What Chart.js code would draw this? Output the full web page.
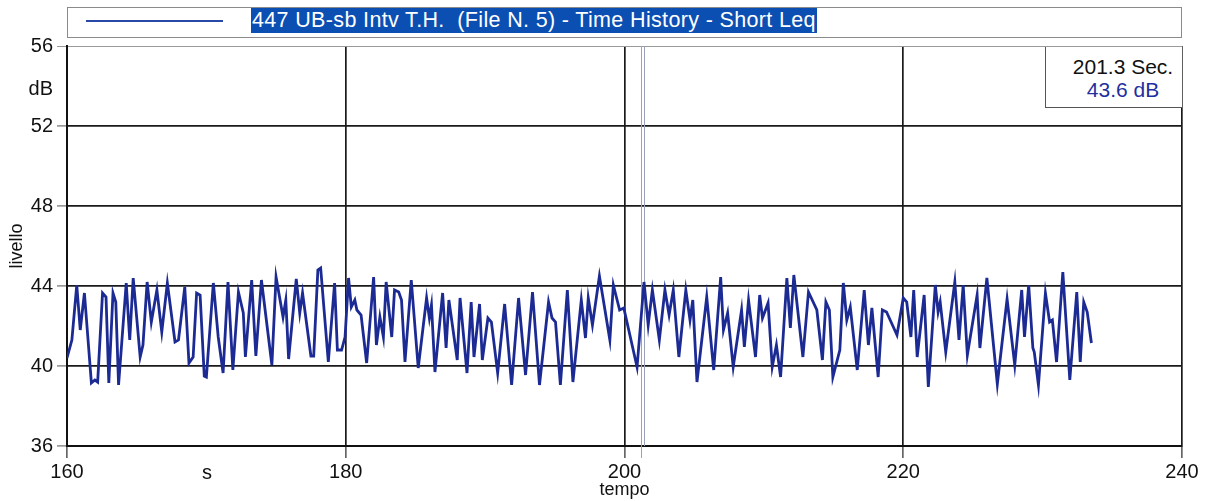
<!DOCTYPE html>
<html>
<head>
<meta charset="utf-8">
<script src="https://cdn.jsdelivr.net/npm/chart.js@4.4.0/dist/chart.umd.min.js"></script>
<style>
  html, body { margin: 0; padding: 0; background: #fff; }
  #wrap { position: relative; width: 1210px; height: 501px; font-family: 'Liberation Sans', Arial, sans-serif; color: #111; }
  #c { position: absolute; left: 0; top: 0; }
  #legend { position: absolute; left: 67px; top: 7px; width: 1115px; height: 31px; box-sizing: border-box; border: 1px solid #8a8a8a; background: #fff; }
  #legend .sample { position: absolute; left: 18px; top: 12px; width: 137px; height: 2px; background: #2a48a8; }
  #legend .txt { position: absolute; left: 183px; top: 0px; height: 25px; line-height: 25px; font-size: 21.5px; letter-spacing: 0.35px; color: #fff; background: #0b4fb3; padding: 0 1px; white-space: pre; }
  #info { position: absolute; left: 1045px; top: 47px; width: 137px; height: 61px; box-sizing: border-box; border-left: 1px solid #555; border-bottom: 1px solid #555; background: #fff; text-align: center; padding: 8px 0 0 18px; font-size: 21px; line-height: 23px; }
  #info .val { color: #1f2fa0; }
  .unit { position: absolute; font-size: 20px; line-height: 24px; }
</style>
</head>
<body>
<div id="wrap">
  <canvas id="c" width="1210" height="501"></canvas>
  <div id="legend"><div class="sample"></div><div class="txt">447 UB-sb Intv T.H.  (File N. 5) - Time History - Short Leq</div></div>
  <div id="info"><div>201.3 Sec.</div><div class="val">43.6 dB</div></div>
  <div class="unit" style="left:0; width:53px; text-align:right; top:76px;">dB</div>
  <div class="unit" style="left:192px; width:30px; text-align:center; top:460px;">s</div>
</div>
<script>
// time history (s, dB)
const times = [
  160.0, 160.35, 160.7, 160.95, 161.25, 161.75, 162.0, 162.2, 162.55, 162.8,
  163.0, 163.3, 163.5, 163.7, 164.25, 164.5, 164.75, 165.25, 165.45, 165.75,
  166.05, 166.45, 166.8, 167.2, 167.75, 168.0, 168.45, 168.75, 169.05, 169.3,
  169.55, 169.85, 170.0, 170.5, 170.85, 171.2, 171.55, 171.9, 172.3, 172.65,
  172.8, 173.25, 173.55, 173.95, 174.7, 175.0, 175.5, 175.7, 175.9, 176.45,
  176.7, 176.9, 177.5, 177.7, 178.0, 178.2, 178.75, 179.2, 179.4, 179.7,
  179.95, 180.2, 180.4, 180.65, 180.8, 181.1, 181.5, 182.0, 182.2, 182.45,
  182.7, 182.9, 183.3, 183.5, 183.8, 184.0, 184.25, 184.7, 185.2, 185.8,
  186.0, 186.15, 186.4, 186.95, 187.2, 187.4, 188.0, 188.2, 188.7, 189.0,
  189.2, 189.6, 189.8, 190.2, 190.45, 190.9, 191.4, 191.9, 192.4, 192.9,
  193.4, 193.9, 194.55, 194.8, 195.05, 195.4, 195.9, 196.3, 196.9, 197.2,
  197.4, 197.7, 198.2, 198.95, 199.2, 199.65, 199.95, 200.9, 201.4, 201.7,
  202.0, 202.5, 202.9, 203.2, 203.5, 203.9, 204.4, 204.7, 204.9, 205.2,
  205.9, 206.4, 206.9, 207.1, 207.4, 207.8, 208.4, 208.6, 208.9, 209.4,
  209.7, 209.9, 210.3, 210.6, 210.9, 211.2, 211.65, 211.9, 212.15, 212.8,
  213.2, 213.8, 214.2, 214.45, 214.7, 214.95, 215.45, 215.7, 215.95, 216.2,
  216.7, 217.2, 217.5, 217.75, 218.2, 218.5, 218.8, 219.55, 220.0, 220.25,
  220.55, 220.75, 221.0, 221.5, 221.8, 222.3, 222.5, 222.65, 223.05, 223.7,
  224.0, 224.3, 224.6, 225.3, 225.5, 226.0, 226.75, 227.45, 228.0, 228.5,
  228.7, 229.0, 229.3, 229.4, 229.7, 230.2, 230.5, 230.7, 231.0, 231.45,
  231.95, 232.45, 232.7, 232.95, 233.2, 233.5
]
const levels = [
  40.4, 41.3, 44.05, 41.8, 43.65, 39.15, 39.3, 39.2, 43.65, 43.45,
  39.15, 43.65, 43.2, 39.05, 44.15, 41.3, 44.4, 40.45, 41.05, 44.2,
  42.2, 43.8, 41.7, 44.15, 41.2, 41.3, 43.95, 40.15, 40.45, 43.65,
  43.55, 39.5, 39.45, 44.15, 41.45, 39.65, 44.2, 39.8, 43.7, 42.65,
  40.45, 44.3, 40.5, 44.3, 40.05, 44.45, 42.45, 43.3, 40.35, 44.35,
  42.65, 43.65, 40.5, 40.5, 44.8, 44.9, 40.2, 44.15, 40.8, 40.8,
  41.45, 44.4, 42.95, 43.3, 42.8, 42.55, 40.15, 44.45, 41.05, 42.45,
  41.45, 44.2, 41.45, 43.8, 43.7, 43.3, 40.2, 44.3, 39.9, 43.4,
  42.4, 43.05, 39.7, 43.65, 40.9, 43.3, 40.3, 43.4, 39.65, 43.2,
  40.45, 43.1, 40.3, 42.4, 42.2, 39.65, 43.1, 39.05, 43.4, 39.55,
  43.7, 39.05, 43.2, 42.4, 42.2, 39.05, 43.8, 39.2, 43.3, 41.4,
  43.4, 42.05, 44.5, 41.3, 44.05, 42.8, 42.9, 39.95, 44.2, 42.05,
  43.8, 41.3, 43.8, 42.55, 43.8, 40.45, 43.8, 42.3, 43.3, 39.2,
  43.45, 39.8, 44.45, 41.8, 42.65, 39.95, 42.8, 40.95, 43.3, 40.45,
  43.55, 42.4, 43.15, 39.95, 41.05, 39.45, 44.4, 41.9, 44.55, 40.45,
  43.7, 42.8, 40.3, 43.2, 42.8, 39.45, 40.8, 44.15, 42.3, 42.95,
  39.8, 43.8, 41.05, 42.9, 39.45, 42.8, 42.7, 41.55, 43.4, 43.2,
  41.45, 43.8, 40.45, 43.55, 38.95, 44.05, 42.7, 43.2, 40.7, 44.2,
  41.3, 44.05, 40.55, 43.55, 40.9, 44.4, 39.1, 43.35, 40.05, 43.8,
  41.45, 44.05, 40.9, 40.7, 39.05, 43.65, 42.2, 42.3, 40.2, 44.7,
  39.3, 43.7, 40.2, 43.2, 42.7, 41.15
]
const xMin = 160, xMax = 240, xStep = 20
const yMin = 36, yMax = 56, yStep = 4
const cursorTime = 201.3

const points = times.map((t, i) => ({ x: t, y: levels[i] }))

// thin double cursor line behind the trace
const cursorPlugin = {
  id: 'cursor',
  beforeDatasetsDraw(chart) {
    const ctx = chart.ctx
    const px = Math.round(chart.scales.x.getPixelForValue(cursorTime))
    const area = chart.chartArea
    ctx.save()
    ctx.strokeStyle = '#98a2b8'
    ctx.lineWidth = 1
    ctx.beginPath()
    ctx.moveTo(px - 1.5, area.top)
    ctx.lineTo(px - 1.5, area.bottom + 12)
    ctx.moveTo(px + 1.5, area.top)
    ctx.lineTo(px + 1.5, area.bottom)
    ctx.stroke()
    ctx.restore()
  }
}

const ctx = document.getElementById('c').getContext('2d')
const chart = new Chart(ctx, {
  type: 'line',
  data: {
    datasets: [{
      data: points,
      borderColor: '#1c2a94',
      borderWidth: 2.8,
      pointRadius: 0,
      tension: 0,
      fill: false
    }]
  },
  options: {
    responsive: false,
    animation: false,
    events: [],
    layout: { padding: { top: 46, right: 28, left: 0, bottom: 0 } },
    plugins: { legend: { display: false }, tooltip: { enabled: false } },
    scales: {
      x: {
        type: 'linear',
        min: xMin,
        max: xMax,
        afterFit: s => { s.height = 55 },
        ticks: { stepSize: xStep, color: '#111', padding: 2, maxRotation: 0, font: { family: 'Liberation Sans', size: 20 } },
        grid: {
          color: c => (c.tick && c.tick.value === xMin) ? 'rgba(0,0,0,0)' : '#1a1a1a',
          lineWidth: 1.7,
          tickColor: '#666',
          tickLength: 12
        },
        border: { color: '#111', width: 2 },
        title: { display: true, text: 'tempo', color: '#111', padding: { top: 0, bottom: 0 }, font: { family: 'Liberation Sans', size: 18 } }
      },
      y: {
        min: yMin,
        max: yMax,
        afterFit: s => { s.width = 67 },
        ticks: { stepSize: yStep, color: '#111', padding: 4, font: { family: 'Liberation Sans', size: 20 } },
        grid: {
          color: c => (c.tick && c.tick.value === yMax) ? '#9a9a9a' : (c.tick && c.tick.value === yMin ? 'rgba(0,0,0,0)' : '#1a1a1a'),
          lineWidth: c => (c.tick && c.tick.value === yMax) ? 1 : 1.7,
          tickColor: '#999',
          tickLength: 10
        },
        border: { color: '#111', width: 2 },
        title: { display: true, text: 'livello', color: '#111', padding: { top: 6, bottom: 0 }, font: { family: 'Liberation Sans', size: 18 } }
      }
    }
  },
  plugins: [cursorPlugin]
})
</script>
</body>
</html>
